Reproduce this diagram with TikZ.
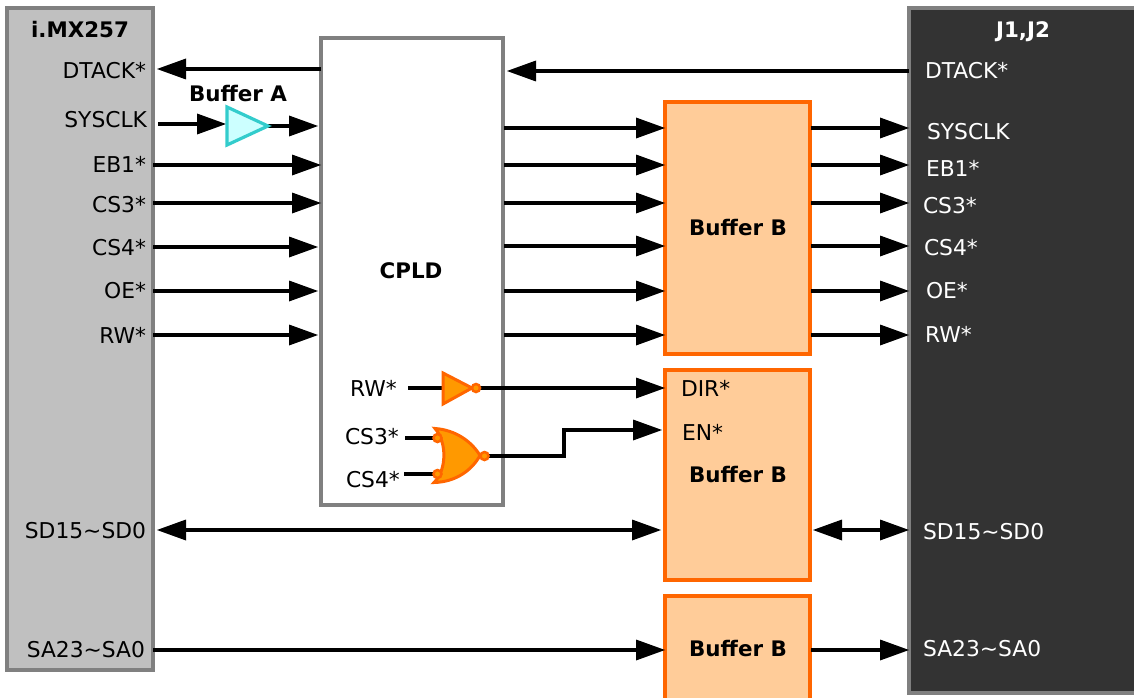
\documentclass[tikz,border=0pt]{standalone}
\usepackage{fontspec}
\setmainfont{DejaVu Sans}
\usetikzlibrary{arrows.meta}
\definecolor{boxgray}{HTML}{808080}
\definecolor{imxfill}{HTML}{C0C0C0}
\definecolor{jfill}{HTML}{333333}
\definecolor{buffill}{HTML}{FFCC99}
\definecolor{bufline}{HTML}{FF6600}
\definecolor{gatefill}{HTML}{FF9900}
\definecolor{cyanline}{HTML}{33CCCC}
\definecolor{cyanfill}{HTML}{CCFFFF}
\tikzset{
  x=1pt,y=-1pt,
  blockbox/.style={draw=boxgray,line width=3.2pt,outer sep=0pt,inner sep=0pt,minimum width=#1},
  bufbox/.style={draw=bufline,fill=buffill,line width=3.2pt,outer sep=0pt,inner sep=0pt,minimum width=145pt},
  sig/.style={line width=3.2pt,-{Triangle[length=29pt,width=21pt,line width=0pt]}},
  bisig/.style={line width=3.2pt,{Triangle[length=29pt,width=21pt,line width=0pt]}-{Triangle[length=29pt,width=21pt,line width=0pt]}},
  wire/.style={line width=3.2pt},
  lab/.style={font=\fontsize{21.8}{25}\selectfont,inner sep=0pt,outer sep=0pt,yshift=-8.2pt},
  llab/.style={lab,anchor=base east},
  rlab/.style={lab,anchor=base west,text=white},
  ilab/.style={lab,anchor=base west},
  title/.style={font=\fontsize{21.4}{25}\selectfont\bfseries,inner sep=0pt,outer sep=0pt,anchor=base,yshift=-8.2pt},
  gateo/.style={draw=bufline,fill=gatefill,line width=3pt,line join=miter},
  bubble/.style={draw=bufline,fill=gatefill,line width=2.5pt,circle,inner sep=0pt,minimum size=8pt,outer sep=0pt},
}
\begin{document}
\begin{tikzpicture}
\useasboundingbox (0,0) rectangle (1134,698);
\clip (0,0) rectangle (1134,698);
% blocks
\node[blockbox=146pt,fill=imxfill,minimum height=662pt] (imx) at (80,339) {};
\node[blockbox=182pt,fill=white,minimum height=467pt] (cpld) at (412,271.5) {};
\node[bufbox,minimum height=252pt] (bufa) at (737.5,228) {};
\node[bufbox,minimum height=210pt] (bufb) at (737.5,475) {};
\node[bufbox,minimum height=114pt] (bufc) at (737.5,653) {};
\node[blockbox=231pt,fill=jfill,minimum height=685pt] (jconn) at (1024.5,350.5) {};
% titles
\node[title] (timx) at (80,29) {i.MX257};
\node[title,text=white] (tj) at (1023,29) {J1,J2};
\node[title] (tbufa) at (238,93) {Buffer A};
\node[title] (tcpld) at (411,270) {CPLD};
\node[title] (tb1) at (738,227) {Buffer B};
\node[title] (tb2) at (738,474) {Buffer B};
\node[title] (tb3) at (738,648) {Buffer B};
% left labels
\node[llab] (l1) at (146,70) {DTACK*};
\node[llab] (l2) at (147,119) {SYSCLK};
\node[llab] (l3) at (146,164) {EB1*};
\node[llab] (l4) at (146,204) {CS3*};
\node[llab] (l5) at (146,247) {CS4*};
\node[llab] (l6) at (146,290) {OE*};
\node[llab] (l7) at (146,335) {RW*};
\node[llab] (l8) at (146,530) {SD15\textasciitilde SD0};
\node[llab] (l9) at (145,649) {SA23\textasciitilde SA0};
% right labels
\node[rlab] (r1) at (925,70) {DTACK*};
\node[rlab] (r2) at (927,131) {SYSCLK};
\node[rlab] (r3) at (926,168) {EB1*};
\node[rlab] (r4) at (923,205) {CS3*};
\node[rlab] (r5) at (924,247) {CS4*};
\node[rlab] (r6) at (926,290) {OE*};
\node[rlab] (r7) at (925,334) {RW*};
\node[rlab] (r8) at (923,531) {SD15\textasciitilde SD0};
\node[rlab] (r9) at (923,648) {SA23\textasciitilde SA0};
% inner labels
\node[ilab] (c1) at (350,388) {RW*};
\node[ilab] (c2) at (345,436) {CS3*};
\node[ilab] (c3) at (346,479) {CS4*};
\node[ilab] (b1) at (681,388) {DIR*};
\node[ilab] (b2) at (682,432) {EN*};
% gates
\coordinate (ain) at (226,124);
\coordinate (aout) at (268,126);
\coordinate (invin) at (442,388);
\coordinate (invout) at (476,388);
\coordinate (norin1) at (437.5,438);
\coordinate (norin2) at (437.5,474);
\coordinate (norout) at (484.5,456);
\coordinate (s1) at (158,124);
\coordinate (s2) at (408,388);
\coordinate (s3) at (405,438);
\coordinate (s4) at (404,474);
\coordinate (elbow1) at (564,456);
\coordinate (elbow2) at (564,430);
% connectors behind gates
\draw[sig] (cpld.west |- 0,69) -- (157,69);
\draw[sig] (jconn.west |- 0,71) -- (507,71);
\draw[sig] (s1) -- (ain);
\draw[sig,shorten >=3pt] (aout) -- (cpld.west |- aout);
\foreach \y/\s in {165/0,203/0,247/3,291/3,335/3}
  \draw[sig,shorten >=\s pt] (imx.east |- 0,\y) -- (cpld.west |- 0,\y);
\foreach \y in {128,165,203,246,291,335}{
  \draw[sig,shorten <=1pt] (cpld.east |- 0,\y) -- (bufa.west |- 0,\y);
  \draw[sig,shorten <=1pt] (bufa.east |- 0,\y) -- (jconn.west |- 0,\y);
}
\draw[wire] (s2) -- (invin);
\draw[sig] (invout) -- (bufb.west |- invout);
\draw[wire] (s3) -- (norin1);
\draw[wire] (s4) -- (norin2);
\draw[sig,shorten >=3pt] (norout) -- (elbow1) -- (elbow2) -- (bufb.west |- elbow2);
\draw[bisig,shorten <=4pt,shorten >=4pt] (imx.east |- 0,530) -- (bufb.west |- 0,530);
\draw[bisig,shorten <=3pt] (bufb.east |- 0,530) -- (jconn.west |- 0,530);
\draw[sig] (imx.east |- 0,650) -- (bufc.west |- 0,650);
\draw[sig,shorten <=1pt] (bufc.east |- 0,650) -- (jconn.west |- 0,650);
% gate shapes
\draw[draw=cyanline,fill=cyanfill,line width=3.2pt] (227,107) -- (227,145) -- (aout) -- cycle;
\draw[gateo] (443,373) -- (443,404) -- (472,388) -- cycle;
\draw[gateo] (435,428.5) .. controls (456,430) and (472,442) .. (480,455.5)
  .. controls (472,470) and (456,482) .. (434,482.5)
  .. controls (447,470) and (447,442) .. cycle;
\node[bubble] (invb) at (invout) {};
\node[bubble] (nb1) at (norin1) {};
\node[bubble] (nb2) at (norin2) {};
\node[bubble] (nb3) at (norout) {};
\end{tikzpicture}
\end{document}
